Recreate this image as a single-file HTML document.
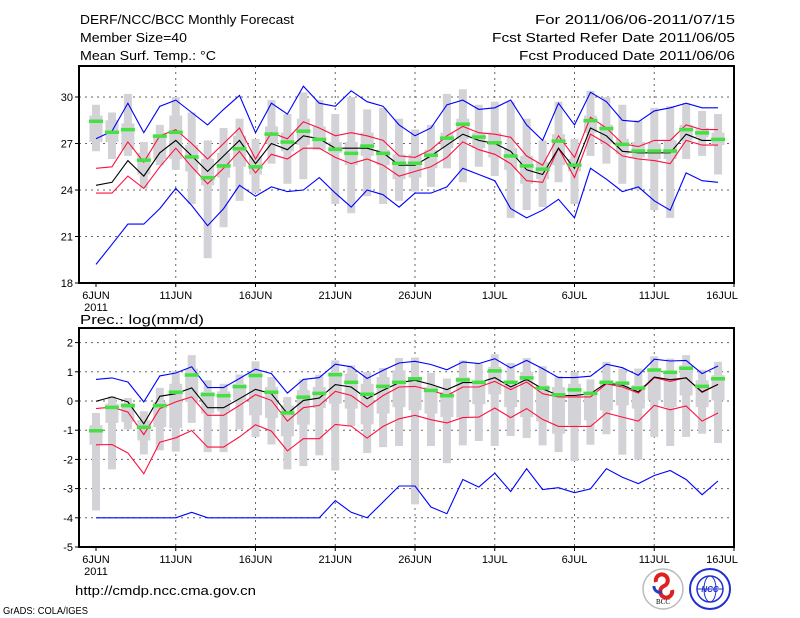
<!DOCTYPE html>
<html><head><meta charset="utf-8"><style>
html,body{margin:0;padding:0;background:#fff;}
svg{display:block;font-family:"Liberation Sans",sans-serif;}
</style></head><body>
<svg id="chart" width="800" height="618" viewBox="0 0 800 618" xmlns="http://www.w3.org/2000/svg">
<rect width="800" height="618" fill="#fff"/>
<g font-size="13" fill="#000">
<text x="80" y="24" textLength="214" lengthAdjust="spacingAndGlyphs">DERF/NCC/BCC Monthly Forecast</text>
<text x="80" y="42" textLength="107" lengthAdjust="spacingAndGlyphs">Member Size=40</text>
<text x="80" y="60" textLength="136" lengthAdjust="spacingAndGlyphs">Mean Surf. Temp.: °C</text>
<text x="735" y="24" text-anchor="end" textLength="200" lengthAdjust="spacingAndGlyphs">For 2011/06/06-2011/07/15</text>
<text x="735" y="42" text-anchor="end" textLength="243" lengthAdjust="spacingAndGlyphs">Fcst Started Refer Date 2011/06/05</text>
<text x="735" y="60" text-anchor="end" textLength="216" lengthAdjust="spacingAndGlyphs">Fcst Produced Date 2011/06/06</text>
<text x="80" y="324" textLength="124" lengthAdjust="spacingAndGlyphs">Prec.: log(mm/d)</text>
<text x="75" y="595" textLength="181" lengthAdjust="spacingAndGlyphs">http://cmdp.ncc.cma.gov.cn</text>
<text x="3" y="614" font-size="10" textLength="85" lengthAdjust="spacingAndGlyphs">GrADS: COLA/IGES</text>
</g>
<g>
<circle cx="663" cy="589" r="20" fill="#fff" stroke="#bbb" stroke-width="1.5"/>
<path d="M656,582 a6,6 0 1 1 8,4 a6,6 0 1 0 8,4" fill="none" stroke="#e02020" stroke-width="4"/>
<path d="M654,586 a6,6 0 0 0 8,6" fill="none" stroke="#2040c0" stroke-width="3"/>
<text x="663" y="604" font-size="7" text-anchor="middle" font-family="Liberation Serif,serif">BCC</text>
</g>
<g>
<circle cx="710" cy="589" r="20" fill="#fff" stroke="#2030d0" stroke-width="2"/>
<circle cx="710" cy="589" r="13" fill="none" stroke="#2030d0" stroke-width="1.5"/>
<ellipse cx="710" cy="589" rx="6" ry="13" fill="none" stroke="#2030d0" stroke-width="1"/>
<line x1="697" y1="589" x2="723" y2="589" stroke="#2030d0"/>
<text x="710" y="592" font-size="8" text-anchor="middle" fill="#2030d0" font-style="italic" font-weight="bold">NCC</text>
</g>
<g id="plots"></g>
</svg>
<script>
// ---------- data ----------
const xLabels = ["6JUN","11JUN","16JUN","21JUN","26JUN","1JUL","6JUL","11JUL","16JUL"];
const tTicks = [30,27,24,21,18];
const pTicks = [2,1,0,-1,-2,-3,-4,-5];
// temperature
const tMax = [27.3,27.8,29.6,27.7,29.4,29.8,29.0,28.2,29.2,30.1,27.7,29.6,28.9,30.7,29.6,29.4,30.4,29.7,29.4,28.2,27.5,28.0,29.5,29.8,29.2,29.3,29.8,28.2,27.2,29.6,28.2,30.3,29.7,28.5,28.4,29.1,29.3,29.6,29.3,29.3];
const tMin = [19.2,20.5,21.8,21.8,22.8,24.1,23.0,21.7,22.8,24.3,23.6,24.2,23.9,24.0,24.8,23.8,22.9,24.0,23.7,22.9,23.8,23.8,24.2,25.4,25.0,24.6,22.8,22.2,22.7,23.4,22.2,25.4,24.7,23.9,24.2,23.3,22.7,25.1,24.6,24.5];
const tMean = [24.3,24.5,25.9,24.9,26.4,27.2,26.2,25.2,26.2,27.2,25.7,27.0,26.6,27.5,27.3,26.7,26.7,26.7,26.4,25.6,25.6,26.2,26.9,27.6,27.2,27.0,26.5,25.3,25.0,26.7,25.4,28.0,27.5,26.5,26.4,26.4,26.4,27.6,27.2,27.2];
const tUp = [25.4,25.5,27.1,25.8,27.5,27.9,27.0,26.0,27.0,28.0,26.0,27.7,27.3,28.4,28.0,27.5,27.7,27.5,27.2,26.2,26.1,26.6,27.5,28.1,27.7,27.6,27.4,26.2,25.6,27.5,26.1,28.7,28.0,27.0,26.8,27.2,27.2,28.2,27.9,27.9];
const tLo = [23.8,23.8,24.9,24.1,25.5,26.7,25.5,24.4,25.4,26.5,25.1,26.3,26.0,26.7,26.7,26.1,25.7,26.0,25.6,24.9,25.2,25.5,26.1,27.1,26.6,26.3,25.7,24.6,24.5,26.7,24.8,27.6,27.0,26.2,26.0,25.9,25.7,27.2,26.9,26.9];
const tGreen = [28.45,27.74,27.91,25.94,27.49,27.74,26.15,24.81,25.57,26.68,25.51,27.62,27.11,27.81,27.28,26.64,26.38,26.85,26.38,25.74,25.74,26.26,27.36,28.26,27.43,27.06,26.21,25.57,25.36,27.17,25.62,28.49,27.98,26.96,26.53,26.53,26.53,27.91,27.70,27.28];
const tBoxHi = [29.5,29.0,30.2,27.1,28.2,30.0,29.0,27.2,28.0,28.6,27.3,29.8,28.9,30.3,29.8,28.9,30.0,29.2,29.3,28.6,27.9,28.2,30.2,30.5,29.5,29.7,29.7,28.6,27.2,29.7,27.3,30.4,30.0,29.5,28.5,29.3,29.4,29.6,29.1,28.9];
const tBoxLo = [26.5,26.0,26.2,24.1,25.6,25.3,23.1,19.6,21.6,23.3,23.8,25.7,24.4,24.7,26.6,23.1,22.5,23.6,23.1,23.3,23.9,24.2,25.4,24.5,25.5,24.9,22.2,22.7,22.9,24.5,23.1,26.2,25.7,24.4,24.0,22.7,22.2,26.0,26.2,25.0];
const tInHi = [28.8,28.5,28.3,26.4,27.6,28.8,26.9,26.0,26.4,27.5,26.2,28.1,27.7,28.6,28.1,27.1,27.1,27.7,26.6,26.3,26.3,26.6,27.7,28.6,27.7,27.7,26.7,26.2,25.8,27.6,26.0,28.8,28.2,27.3,27.1,27.0,27.2,28.2,28.0,27.7];
const tInLo = [27.1,27.1,26.6,25.0,26.0,26.0,25.2,24.3,24.8,25.5,25.0,27.0,26.5,26.9,26.6,26.4,25.6,26.2,25.6,24.7,24.8,25.4,26.7,27.3,26.7,26.1,25.3,24.4,24.7,25.6,25.2,27.7,27.0,26.3,26.1,26.0,26.0,27.2,27.4,26.9];
// precipitation
const pMax = [0.74,0.79,0.65,-0.03,0.86,0.96,1.17,0.46,0.46,0.77,1.09,0.94,0.27,0.74,0.80,1.26,1.17,0.77,1.05,1.30,1.36,1.25,1.07,1.34,1.28,1.45,1.13,1.39,1.11,0.80,0.80,0.85,1.26,1.14,0.88,1.43,1.37,1.39,0.94,1.20];
const pMin = [-4,-4,-4,-4,-4,-4,-3.81,-4,-4,-4,-4,-4,-4,-4,-4,-3.41,-3.81,-4,-3.46,-2.91,-2.91,-3.63,-3.86,-2.69,-2.95,-2.47,-3.10,-2.32,-3.03,-2.97,-3.14,-3.01,-2.32,-2.61,-2.83,-2.55,-2.38,-2.69,-3.21,-2.74];
const pMean = [-0.01,0.14,-0.03,-0.78,0.16,0.25,0.45,-0.23,-0.23,0.08,0.40,0.25,-0.43,0.02,0.10,0.56,0.48,0.08,0.37,0.63,0.71,0.57,0.39,0.63,0.63,0.80,0.48,0.74,0.42,0.19,0.19,0.25,0.62,0.54,0.31,0.82,0.73,0.79,0.31,0.57];
const pUp = [-0.26,-0.21,-0.38,-1.15,-0.26,-0.03,0.14,-0.49,-0.49,-0.15,0.22,0.02,-0.69,-0.23,-0.15,0.33,0.19,-0.21,0.19,0.48,0.50,0.37,0.19,0.48,0.48,0.67,0.39,0.65,0.25,0.14,0.14,0.14,0.59,0.48,0.27,0.80,0.67,0.80,0.29,0.57];
const pLo = [-1.50,-1.49,-1.78,-2.49,-1.41,-1.26,-1.01,-1.58,-1.58,-1.23,-0.81,-1.03,-1.71,-1.29,-1.29,-0.80,-0.86,-1.27,-0.87,-0.61,-0.49,-0.64,-0.75,-0.57,-0.55,-0.24,-0.57,-0.26,-0.63,-0.87,-0.87,-0.87,-0.41,-0.55,-0.69,-0.15,-0.30,-0.17,-0.69,-0.41];
const pGreen = [-1.01,-0.21,-0.15,-0.89,-0.15,0.31,0.90,0.23,0.19,0.50,0.88,0.31,-0.40,0.14,0.27,0.91,0.65,0.24,0.51,0.65,0.77,0.37,0.19,0.73,0.65,1.04,0.65,0.80,0.45,0.22,0.39,0.27,0.65,0.62,0.45,1.07,0.99,1.13,0.51,0.77];
const pBoxHi = [-0.41,0.16,0.10,-0.35,0.45,1.02,1.57,0.71,0.59,0.91,1.36,0.82,0.14,0.74,0.90,1.39,1.22,0.99,1.13,1.47,1.49,0.96,0.77,1.39,1.28,1.60,1.30,1.47,1.19,0.85,0.99,0.74,1.34,1.11,1.11,1.53,1.45,1.57,1.07,1.34];
const pBoxLo = [-3.75,-2.34,-0.97,-1.83,-1.69,-1.73,-0.75,-1.75,-1.75,-0.97,-1.23,-1.49,-2.34,-2.23,-1.86,-2.38,-0.86,-1.78,-1.58,-1.54,-3.54,-1.54,-2.13,-1.52,-1.37,-1.54,-1.20,-1.27,-1.52,-1.75,-2.06,-1.50,-1.14,-1.84,-2.01,-1.23,-1.54,-1.23,-1.12,-1.44];
const pInHi = [-0.83,-0.09,-0.07,-0.66,-0.03,0.59,1.11,0.31,0.33,0.59,1.02,0.48,-0.15,0.37,0.48,0.99,0.94,0.59,0.82,1.05,0.82,0.48,0.31,0.82,0.65,1.17,0.65,0.99,0.54,0.48,0.59,0.25,0.65,0.54,0.54,1.11,0.99,1.22,0.71,0.88];
const pInLo = [-1.50,-0.75,-0.72,-1.35,-0.89,-0.93,-0.03,-0.43,-0.35,0.02,-0.49,-0.58,-1.21,-0.81,-0.24,-0.09,-0.26,-0.80,-0.43,-0.21,-0.32,-0.43,-0.55,-0.57,-0.11,0.23,-0.21,-0.55,-0.70,-1.12,-0.83,-0.66,-0.32,-0.15,-0.26,0.02,-0.21,0.19,-0.21,0.02];

// ---------- drawing ----------
const NS = "http://www.w3.org/2000/svg";
const root = document.getElementById("plots");
function mk(tag, attrs, parent){
  const e = document.createElementNS(NS, tag);
  for (const k in attrs) e.setAttribute(k, attrs[k]);
  (parent||root).appendChild(e);
  return e;
}
const X0 = 79, X1 = 734;
function xDay(d){ return 96 + d*15.95; }

function drawPanel(cfg){
  const g = mk("g", {});
  
  
  const y = v => cfg.yTop + (cfg.vTop - v) * cfg.scale;
  const yBot = y(cfg.vBot);
  // grid
  for (let i=0;i<cfg.ticks.length;i++){
    const t = cfg.ticks[i], yy = y(t);
    if (yy > cfg.yTop+1 && yy < yBot-1){
      const gl = mk("line",{x1:X0,x2:X1,y1:yy,y2:yy,stroke:"#666","stroke-dasharray":"2,4","stroke-width":1},g);
      
      
    }
    mk("line",{x1:X0-4,x2:X0,y1:yy,y2:yy,stroke:"#000"},g);
    const tl = mk("text",{x:X0-6,y:yy+4,"text-anchor":"end","font-size":11},g);
    tl.textContent = t;
    
    
  }
  for (let i=0;i<xLabels.length;i++){
    const xx = xDay(i*5);
    if (i>0 && i<xLabels.length-1){
      const gl = mk("line",{x1:xx,x2:xx,y1:cfg.yTop,y2:yBot,stroke:"#666","stroke-dasharray":"2,4","stroke-width":1},g);
      
      
    }
    mk("line",{x1:xx,x2:xx,y1:yBot,y2:yBot+4,stroke:"#000"},g);
    const tl = mk("text",{x:Math.min(xx,722),y:yBot+16,"text-anchor":"middle","font-size":11},g);
    tl.textContent = xLabels[i];
    
    
  }
  const yr = mk("text",{x:96,y:yBot+28,"text-anchor":"middle","font-size":11},g);
  yr.textContent = "2011";
  
  
  // boxes
  for (let d=0; d<cfg.bh.length; d++){
    const xx = xDay(d);
    const ob = mk("rect",{x:xx-4,y:y(cfg.bh[d]),width:8,height:y(cfg.bl[d])-y(cfg.bh[d]),fill:"#d3d3d7"},g);
    
    
    const ib = mk("rect",{x:xx-6.5,y:y(cfg.ih[d]),width:13,height:y(cfg.il[d])-y(cfg.ih[d]),fill:"#d3d3d7"},g);
    
    
  }
  // lines
  const series = [[cfg.mx,"#0000ff","max-line"],[cfg.mn,"#0000ff","min-line"],[cfg.up,"#ff1040","upper-line"],[cfg.lo,"#ff1040","lower-line"],[cfg.mean,"#000","mean-line"]];
  for (const s of series){
    const pts = s[0].map((v,d)=>xDay(d).toFixed(1)+","+y(v).toFixed(1)).join(" ");
    const pl = mk("polyline",{points:pts,fill:"none",stroke:s[1],"stroke-width":1.1},g);
    
    
  }
  for (let d=0; d<cfg.gr.length; d++){
    const gm = mk("rect",{x:xDay(d)-7,y:y(cfg.gr[d])-1.5,width:14,height:3.5,fill:"#44e044"},g);
    
    
  }
  const fr = mk("rect",{x:X0,y:cfg.yTop,width:X1-X0,height:yBot-cfg.yTop,fill:"none",stroke:"#000","stroke-width":2},g);
  
  
}
drawPanel({name:"temperature-panel",yTop:66,vTop:32,vBot:18,scale:15.5,ticks:tTicks,
  mx:tMax,mn:tMin,mean:tMean,up:tUp,lo:tLo,gr:tGreen,bh:tBoxHi,bl:tBoxLo,ih:tInHi,il:tInLo});
drawPanel({name:"precipitation-panel",yTop:328,vTop:2.5,vBot:-5,scale:29.2,ticks:pTicks,
  mx:pMax,mn:pMin,mean:pMean,up:pUp,lo:pLo,gr:pGreen,bh:pBoxHi,bl:pBoxLo,ih:pInHi,il:pInLo});
</script>
</body></html>
